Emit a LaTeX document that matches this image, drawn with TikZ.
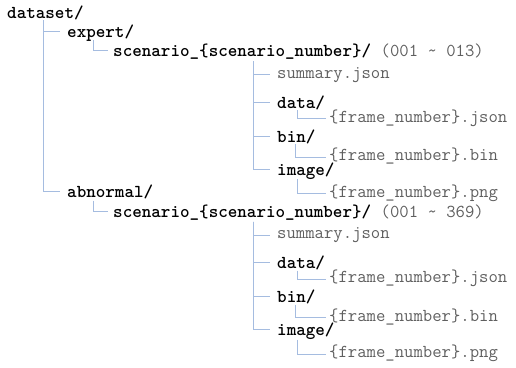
\documentclass[tikz,border=0pt]{standalone}
\usepackage{fontspec}
\definecolor{treeline}{RGB}{165,188,224}
\definecolor{filegray}{RGB}{95,95,95}

\begin{document}
\begin{tikzpicture}[x=1pt,y=-1pt,
	dir/.style={anchor=base west, inner sep=0pt, font=\ttfamily\bfseries\fontsize{18.2}{20}\selectfont},
	file/.style={anchor=base west, inner sep=0pt, text=filegray, font=\ttfamily\fontsize{18.2}{20}\selectfont},
	branch/.style={draw=treeline, line width=0.8pt}]
	\useasboundingbox (0,0) rectangle (516,367);
	\node[dir] (dataset) at (7,18) {dataset/};
	% one block per scenario group
	\foreach \dy/\name/\range in {0/expert/013, 160.5/abnormal/369}{
		\node[dir] (\name) at (67,37+\dy) {\name/};
		\node[dir] (scn-\name) at (113,56.5+\dy) {scenario\_\{scenario\_number\}/ {\mdseries\color{filegray}(001 \textasciitilde{} \range)}};
		\node[file] (sum-\name) at (277,78+\dy) {summary.json};
		\node[dir] (data-\name) at (277,108+\dy) {data/};
		\node[file] (json-\name) at (329,122+\dy) {\{frame\_number\}.json};
		\node[dir] (bin-\name) at (277,142+\dy) {bin/};
		\node[file] (binf-\name) at (329,160.5+\dy) {\{frame\_number\}.bin};
		\node[dir] (img-\name) at (277,175+\dy) {image/};
		\node[file] (png-\name) at (329,197+\dy) {\{frame\_number\}.png};
		\draw[branch] ([xshift=36pt,yshift=-2pt]dataset.base west) |- ([xshift=-7pt,yshift=6pt]\name.base west);
		\draw[branch] ([xshift=26pt,yshift=-3pt]\name.base west) |- ([xshift=-5pt,yshift=6pt]scn-\name.base west);
		\foreach \kid in {data,bin,img}
			\draw[branch] ([xshift=140pt,yshift=-4.5pt]scn-\name.base west) |- ([xshift=-7pt,yshift=6pt]\kid-\name.base west);
		\draw[branch] ([xshift=140pt,yshift=-4.5pt]scn-\name.base west) |- ([xshift=-7pt,yshift=3.5pt]sum-\name.base west);
		\draw[branch] ([xshift=20pt,yshift=-2pt]data-\name.base west) |- ([xshift=-3pt,yshift=3.5pt]json-\name.base west);
		\draw[branch] ([xshift=18pt,yshift=-2pt]bin-\name.base west) |- ([xshift=-3pt,yshift=3.5pt]binf-\name.base west);
		\draw[branch] ([xshift=20pt,yshift=-4pt]img-\name.base west) |- ([xshift=-3pt,yshift=3.5pt]png-\name.base west);
	}
\end{tikzpicture}
\end{document}
